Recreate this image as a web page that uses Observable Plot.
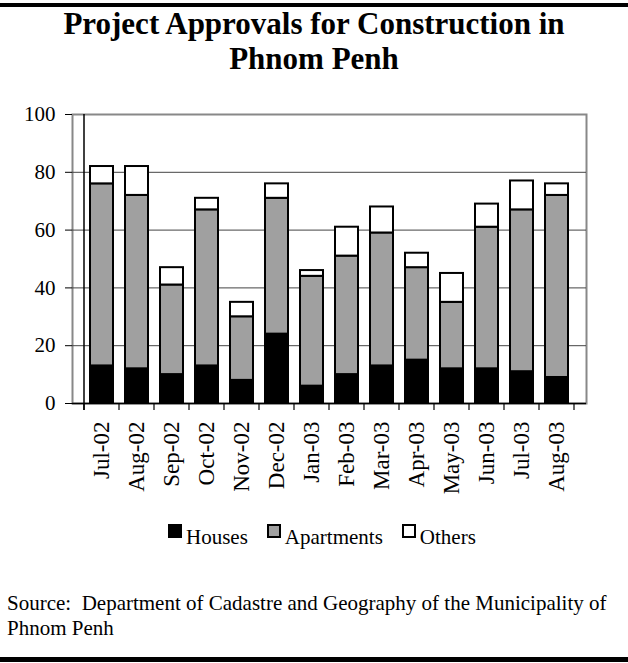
<!DOCTYPE html>
<html><head><meta charset="utf-8">
<script src="https://cdn.jsdelivr.net/npm/d3@7"></script>
<script src="https://cdn.jsdelivr.net/npm/@observablehq/plot@0.6"></script>
<style>
html,body{margin:0;padding:0;background:#fff;}
#wrap{position:relative;width:628px;height:663px;overflow:hidden;font-family:"Liberation Serif","Times New Roman",serif;color:#000;background:#fff;}
.rule{position:absolute;left:0;width:628px;background:#000;}
.title{position:absolute;left:0;width:628px;text-align:center;font-weight:bold;font-size:31px;line-height:31px;white-space:nowrap;}
#chart{position:absolute;left:0;top:90px;}
#legend{position:absolute;left:168px;top:524px;font-size:21px;line-height:24px;white-space:nowrap;}
.item{display:inline-block;margin-right:19px;}
.sw{display:inline-block;width:14px;height:14px;box-sizing:border-box;border:2px solid #000;vertical-align:6px;margin-right:4px;}
#source{position:absolute;left:7px;top:591px;font-size:21px;line-height:25px;white-space:nowrap;}
</style></head>
<body>
<div id="wrap">
  <div class="rule" style="top:3px;height:4px;"></div>
  <div class="title" style="top:8px;">Project Approvals for Construction in</div>
  <div class="title" style="top:43px;">Phnom Penh</div>
  <div id="chart"></div>
  <div id="legend"></div>
  <div id="source">Source:&nbsp; Department of Cadastre and Geography of the Municipality of<br>Phnom Penh</div>
  <div class="rule" style="top:657px;height:5px;"></div>
</div>
<script>
const months = ["Jul-02","Aug-02","Sep-02","Oct-02","Nov-02","Dec-02","Jan-03","Feb-03","Mar-03","Apr-03","May-03","Jun-03","Jul-03","Aug-03"];
const houses = [13, 12, 10, 13, 8, 24, 6, 10, 13, 15, 12, 12, 11, 9];
const apartments = [63, 60, 31, 54, 22, 47, 38, 41, 46, 32, 23, 49, 56, 63];
const others = [6, 10, 6, 4, 5, 5, 2, 10, 9, 5, 10, 8, 10, 4];
const seriesNames = ["Houses", "Apartments", "Others"];
const seriesColors = ["#000000", "#a0a0a0", "#ffffff"];
const yTicks = [0, 20, 40, 60, 80, 100];
const gridTicks = [20, 40, 60, 80];

const seriesValues = [houses, apartments, others];
const table = months.flatMap((m, i) => seriesNames.map((s, k) => ({month: m, type: s, value: seriesValues[k][i]})));

const chart = Plot.plot({
  width: 628,
  height: 413,
  marginTop: 24,
  marginBottom: 100,
  marginLeft: 72,
  marginRight: 42,
  style: {fontFamily: "Liberation Serif", fontSize: "21px", color: "#000", background: "transparent"},
  x: {domain: months, padding: 0.35, label: null},
  y: {domain: [0, 100], label: null},
  color: {domain: seriesNames, range: seriesColors},
  marks: [
    Plot.frame({stroke: "#888", strokeWidth: 2}),
    Plot.gridY(gridTicks, {stroke: "#444", strokeOpacity: 1, strokeWidth: 1}),
    Plot.barY(table, {x: "month", y: "value", fill: "type", stroke: "#000", strokeWidth: 2, order: seriesNames}),
    Plot.ruleY([0], {stroke: "#000", strokeWidth: 1.5}),
    Plot.axisY({ticks: yTicks, tickSize: 7, tickPadding: 10, fontSize: 21, label: null}),
    Plot.axisX({tickSize: 0, tickRotate: -90, tickPadding: 18, fontSize: 23, label: null})
  ]
});
document.getElementById("chart").appendChild(chart);

// axis line on the left and tick marks between categories, from the plot's own scales
const xs = chart.scale("x"), ys = chart.scale("y");
const n = months.length;
const step = xs.step != null ? xs.step : (xs.range[1] - xs.range[0]) / (n - xs.paddingInner + 2 * xs.paddingOuter);
const bw = xs.bandwidth != null ? xs.bandwidth : step * (1 - xs.paddingInner);
const gap = (step - bw) / 2;
const edges = months.map(m => xs.apply(m) - gap).concat([xs.apply(months[n - 1]) + bw + gap]);
const y0 = ys.apply(0), y100 = ys.apply(100);
const svg = d3.select(chart);
const g = svg.append("g").attr("stroke", "#000").attr("fill", "none");
g.append("line").attr("x1", edges[0]).attr("x2", edges[0]).attr("y1", y100).attr("y2", y0 + 7).attr("stroke-width", 1.5);
edges.forEach(x => g.append("line").attr("x1", x).attr("x2", x).attr("y1", y0).attr("y2", y0 + 7).attr("stroke-width", 1.2));

// legend
const legend = document.getElementById("legend");
seriesNames.forEach((s, k) => {
  const item = document.createElement("span");
  item.className = "item";
  const sw = document.createElement("span");
  sw.className = "sw";
  sw.style.background = seriesColors[k];
  item.appendChild(sw);
  item.appendChild(document.createTextNode(s));
  legend.appendChild(item);
});
</script>
</body></html>
